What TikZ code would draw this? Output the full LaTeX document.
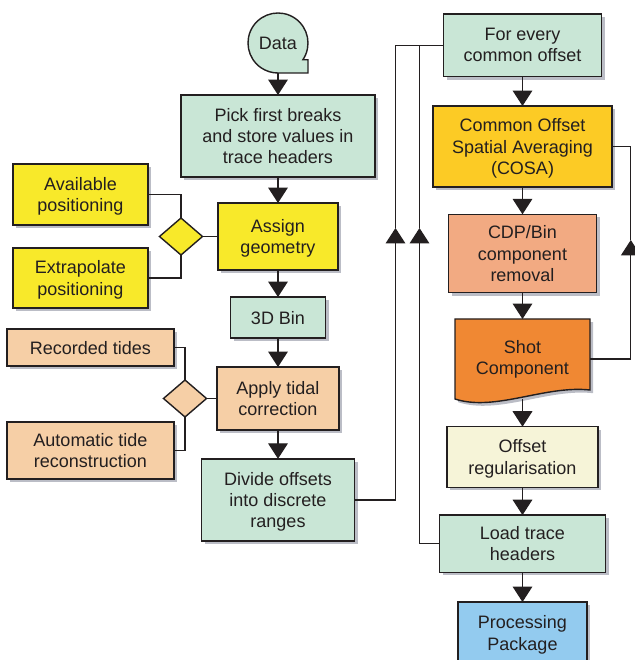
\documentclass[tikz,border=0pt]{standalone}
\usepackage{fontspec}
\setmainfont{Liberation Sans}
\usetikzlibrary{arrows.meta,backgrounds,shadows,shapes.geometric}
\definecolor{FlowGreen}{HTML}{C9E6D6}
\definecolor{FlowYellow}{HTML}{F8E92A}
\definecolor{FlowTan}{HTML}{F6CFA6}
\definecolor{FlowGold}{HTML}{FCCB25}
\definecolor{FlowSalmon}{HTML}{F2AA82}
\definecolor{FlowOrange}{HTML}{F08833}
\definecolor{FlowCream}{HTML}{F6F4D8}
\definecolor{FlowBlue}{HTML}{93CBEF}
\definecolor{FlowShadow}{HTML}{BBBDC6}
\definecolor{FlowDark}{HTML}{231F20}
\newcommand{\FlowText}{\fontsize{12.8}{15.0}\selectfont}
\tikzset{
  flowbase/.style={
    draw=FlowDark,
    line width=1.0pt,
    align=center,
    inner sep=2pt,
    outer sep=0pt,
    text=FlowDark,
    font=\FlowText
  },
  flowshadow/.style={
    drop shadow={shadow xshift=0.08cm, shadow yshift=-0.08cm, fill=FlowShadow, opacity=1}
  },
  shadowbox/.style={flowbase, rectangle, flowshadow, text depth=0pt},
  greenbox/.style={shadowbox, fill=FlowGreen},
  yellowbox/.style={shadowbox, fill=FlowYellow},
  tanbox/.style={shadowbox, fill=FlowTan},
  goldbox/.style={shadowbox, fill=FlowGold},
  salmonbox/.style={shadowbox, fill=FlowSalmon},
  creambox/.style={shadowbox, fill=FlowCream},
  bluebox/.style={shadowbox, fill=FlowBlue},
  textonly/.style={flowbase, draw=none, rectangle},
  choicebox/.style={
    flowbase,
    diamond,
    inner sep=0pt,
    minimum width=1.075cm,
    minimum height=0.925cm
  },
  flowline/.style={draw=FlowDark, line width=0.9pt},
  flowarrow/.style={flowline, -{Triangle[length=11pt,width=14pt]}}
}

\begin{document}
\begin{tikzpicture}[x=1cm,y=1cm]
\path[use as bounding box] (0,0) rectangle (15.875,16.5);

% left column
\node[textonly, circle, minimum size=1.5cm, inner sep=0pt] (data) at (6.95,15.425) {Data};
\node[greenbox, minimum width=4.85cm, minimum height=2.05cm] (pick) at (6.95,13.10)
  {Pick first breaks\\and store values in\\trace headers};
\node[yellowbox, minimum width=3.00cm, minimum height=1.675cm] (assign) at (6.95,10.5875)
  {Assign\\geometry};
\node[choicebox, fill=FlowYellow] (choicegeo) at (4.525,10.5875) {};
\node[yellowbox, minimum width=3.375cm, minimum height=1.525cm] (avail) at (2.0125,11.6375)
  {Available\\positioning};
\node[yellowbox, minimum width=3.375cm, minimum height=1.50cm] (extrap) at (2.0125,9.55)
  {Extrapolate\\positioning};
\node[greenbox, minimum width=2.375cm, minimum height=1.025cm] (bin) at (6.95,8.5625)
  {3D Bin};
\node[tanbox, minimum width=3.05cm, minimum height=1.575cm] (tidal) at (6.95,6.5375)
  {Apply tidal\\correction};
\node[choicebox, fill=FlowTan] (choicetide) at (4.625,6.5375) {};
\node[tanbox, minimum width=4.175cm, minimum height=0.925cm] (recorded) at (2.2625,7.8125)
  {Recorded tides};
\node[tanbox, minimum width=4.175cm, minimum height=1.425cm] (autotide) at (2.2625,5.2375)
  {Automatic tide\\reconstruction};
\node[greenbox, minimum width=3.825cm, minimum height=2.06cm] (divide) at (6.95,4.00)
  {Divide offsets\\into discrete\\ranges};

% right column
\node[greenbox, minimum width=3.96cm, minimum height=1.5625cm] (every) at (13.0625,15.36875)
  {For every\\common offset};
\node[goldbox, minimum width=4.475cm, minimum height=2.025cm] (cosa) at (13.0625,12.8375)
  {Common Offset\\Spatial Averaging\\(COSA)};
\node[salmonbox, minimum width=3.70cm, minimum height=1.96cm] (cdp) at (13.0625,10.1625)
  {CDP/Bin\\component\\removal};
\node[textonly, minimum width=3.375cm, minimum height=2.00cm] (shot) at (13.0625,7.525)
  {Shot\\Component};
\node[creambox, minimum width=3.775cm, minimum height=1.515cm] (offreg) at (13.0625,5.075)
  {Offset\\regularisation};
\node[greenbox, minimum width=4.14cm, minimum height=1.43cm] (load) at (13.0625,2.9075)
  {Load trace\\headers};
\node[bluebox, minimum width=3.225cm, minimum height=1.55cm] (proc) at (13.0625,0.675)
  {Processing\\Package};

% shapes drawn behind their texts
\begin{scope}[on background layer]
\path[flowbase, fill=FlowGreen] (data.-34) arc[start angle=-34, end angle=270, radius=0.75cm]
  -- ++(0.75,0) -- ++(0,0.331) -- cycle;
\path[flowbase, fill=FlowOrange, flowshadow] (shot.north west) -- (shot.north east)
  -- ([yshift=0.225cm]shot.south east) .. controls +(-1.125,0.125) and +(1.0,-0.325) .. (shot.south west)
  -- cycle;
\end{scope}

\coordinate (loopdiv) at (9.8875,10.80);
\coordinate (loopload) at (10.4875,10.80);
\coordinate (loopshot) at (15.77,10.50);

% main flow
\draw[flowarrow] (data.south) -- (pick.north);
\draw[flowarrow] (pick.south) -- (assign.north);
\draw[flowarrow] (assign.south) -- (bin.north);
\draw[flowarrow] (bin.south) -- (tidal.north);
\draw[flowarrow] (tidal.south) -- (divide.north);
\draw[flowarrow] (every.south) -- (cosa.north);
\draw[flowarrow] (cosa.south) -- (cdp.north);
\draw[flowarrow] (cdp.south) -- (shot.north);
\draw[flowarrow] (shot.south) -- (offreg.north);
\draw[flowarrow] (offreg.south) -- (load.north);
\draw[flowarrow] (load.south) -- (proc.north);

% choices
\draw[flowline] (avail.east) -| (choicegeo.north);
\draw[flowline] (extrap.east) -| (choicegeo.south);
\draw[flowline] (choicegeo.east) -- (assign.west);
\draw[flowline] (recorded.east) -| (choicetide.north);
\draw[flowline] (autotide.east) -| (choicetide.south);
\draw[flowline] (choicetide.east) -- (tidal.west);

% loops
\draw[flowarrow] (divide.east) -| (loopdiv);
\draw[flowline] (loopdiv) |- (every.west);
\draw[flowarrow] (load.west) -| (loopload);
\draw[flowline] (loopload) -- (loopload |- every.west);
\draw[flowarrow] (shot.east) -| (loopshot);
\draw[flowline] (loopshot) |- (cosa.east);

\end{tikzpicture}
\end{document}
